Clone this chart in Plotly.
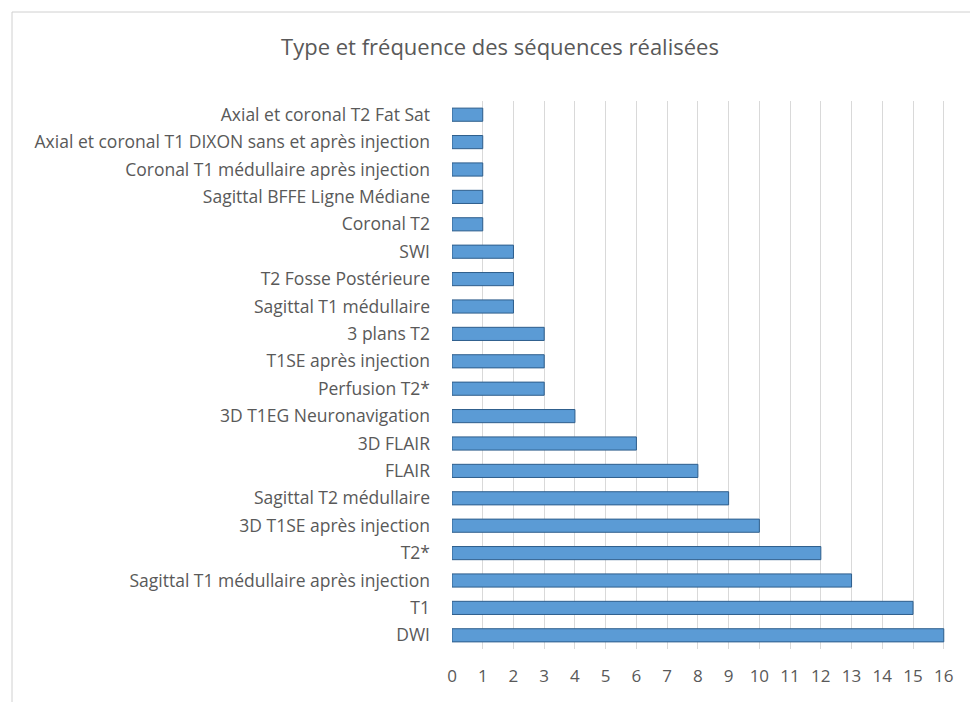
import plotly.graph_objects as go

categories = [
    "DWI", "T1", "Sagittal T1 médullaire après injection", "T2*",
    "3D T1SE après injection", "Sagittal T2 médullaire", "FLAIR", "3D FLAIR",
    "3D T1EG Neuronavigation", "Perfusion T2*", "T1SE après injection", "3 plans T2",
    "Sagittal T1 médullaire", "T2 Fosse Postérieure", "SWI", "Coronal T2",
    "Sagittal BFFE Ligne Médiane", "Coronal T1 médullaire après injection",
    "Axial et coronal T1 DIXON sans et après injection", "Axial et coronal T2 Fat Sat",
]
values = [16, 15, 13, 12, 10, 9, 8, 6, 4, 3, 3, 3, 2, 2, 2, 1, 1, 1, 1, 1]
x_ticks = list(range(0, 17))

# page has an 8px body margin; figure origin sits at (8, 8)
OFF = 8
W, H = 978 - OFF, 702 - OFF
L, R, T, B = 452 - OFF, 33, 101 - OFF, 53
pw, ph = W - L - R, H - T - B

def px_x(p):
    return (p - OFF - L) / pw

def px_y(p):
    return (H - B - (p - OFF)) / ph

fig = go.Figure(go.Bar(
    x=values, y=categories, orientation="h",
    marker=dict(color="#5B9BD5", line=dict(color="#2E5E8C", width=1)),
    width=0.48,
))

fig.update_layout(
    width=W, height=H,
    margin=dict(l=L, r=R, t=T, b=B, autoexpand=False),
    paper_bgcolor="white", plot_bgcolor="white",
    font=dict(family="Open Sans, Liberation Sans, sans-serif", size=15, color="#595959"),
    title=dict(text="Type et fréquence des séquences réalisées",
               x=px_x(500), xref="paper", xanchor="center",
               y=1 - (47 - OFF) / H, yanchor="middle",
               font=dict(size=22, color="#595959")),
    showlegend=False,
    shapes=[
        dict(type="line", xref="paper", yref="paper",
             x0=px_x(12), x1=px_x(978), y0=px_y(12), y1=px_y(12),
             line=dict(color="#D0D0D0", width=1)),
        dict(type="line", xref="paper", yref="paper",
             x0=px_x(12), x1=px_x(12), y0=px_y(12), y1=px_y(702),
             line=dict(color="#D0D0D0", width=1)),
    ],
)
fig.update_xaxes(range=[0, 16.04], tickvals=x_ticks, ticktext=[str(v) for v in x_ticks],
                 showgrid=True, gridcolor="#D9D9D9", gridwidth=1, zeroline=False,
                 showline=False, ticks="", tickfont=dict(size=17, color="#595959"),
                 ticklabelstandoff=15, automargin=False)
fig.update_yaxes(categoryorder="array", categoryarray=categories,
                 showgrid=False, showline=False, ticks="", ticklabelstandoff=21,
                 tickfont=dict(size=17.5, color="#595959"), automargin=False)

fig.write_html("out.html")
